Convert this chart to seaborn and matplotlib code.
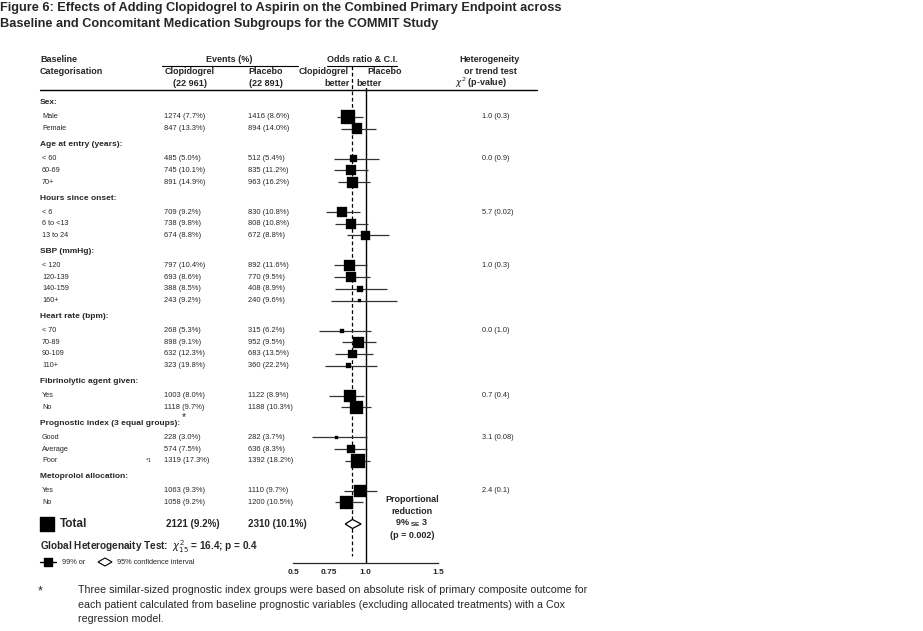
import matplotlib
matplotlib.use("Agg")
import matplotlib.pyplot as plt
import seaborn as sns
import pandas as pd

# ---- data ----
group_names = ["Sex:", "Age at entry (years):", "Hours since onset:", "SBP (mmHg):",
               "Heart rate (bpm):", "Fibrinolytic agent given:",
               "Prognostic index (3 equal groups):", "Metoprolol allocation:"]
group_sizes = [2, 3, 3, 4, 4, 2, 3, 2]
het_tests = ["1.0 (0.3)", "0.0 (0.9)", "5.7 (0.02)", "1.0 (0.3)", "0.0 (1.0)",
             "0.7 (0.4)", "3.1 (0.08)", "2.4 (0.1)"]

sub_labels = ["Male", "Female", "< 60", "60-69", "70+", "< 6", "6 to <13", "13 to 24",
              "< 120", "120-139", "140-159", "160+", "< 70", "70-89", "90-109", "110+",
              "Yes", "No", "Good", "Average", "Poor", "Yes", "No"]
clopi_events = [1274, 847, 485, 745, 891, 709, 738, 674, 797, 693, 388, 243,
                268, 898, 632, 323, 1003, 1118, 228, 574, 1319, 1063, 1058]
clopi_pct = [7.7, 13.3, 5.0, 10.1, 14.9, 9.2, 9.8, 8.8, 10.4, 8.6, 8.5, 9.2,
             5.3, 9.1, 12.3, 19.8, 8.0, 9.7, 3.0, 7.5, 17.3, 9.3, 9.2]
placebo_events = [1416, 894, 512, 835, 963, 830, 808, 672, 892, 770, 408, 240,
                  315, 952, 683, 360, 1122, 1188, 282, 636, 1392, 1110, 1200]
placebo_pct = [8.6, 14.0, 5.4, 11.2, 16.2, 10.8, 10.8, 8.8, 11.6, 9.5, 8.9, 9.6,
               6.2, 9.5, 13.5, 22.2, 8.9, 10.3, 3.7, 8.3, 18.2, 9.7, 10.5]
odds_ratio = [0.88, 0.94, 0.92, 0.90, 0.91, 0.84, 0.90, 1.00, 0.89, 0.90, 0.96, 0.96,
              0.84, 0.95, 0.91, 0.88, 0.89, 0.94, 0.80, 0.90, 0.95, 0.96, 0.87]
ci_low = [0.80, 0.83, 0.78, 0.78, 0.81, 0.73, 0.79, 0.87, 0.78, 0.78, 0.79, 0.76,
          0.68, 0.84, 0.79, 0.72, 0.75, 0.83, 0.63, 0.78, 0.86, 0.85, 0.79]
ci_high = [0.98, 1.07, 1.09, 1.02, 1.03, 0.96, 1.02, 1.16, 1.01, 1.03, 1.15, 1.22,
           1.04, 1.07, 1.05, 1.08, 0.99, 1.04, 1.01, 1.01, 1.03, 1.08, 0.98]

total_clopi = (2121, 9.2)
total_placebo = (2310, 10.1)
total_or, total_lo, total_hi = 0.91, 0.86, 0.97

W, H = 923, 631
sns.set_style("white")
plt.rcParams['font.family'] = ['Liberation Sans', 'DejaVu Sans']
plt.rcParams['mathtext.fontset'] = 'dejavusans'

fig = plt.figure(figsize=(W / 100, H / 100), dpi=100)
bg = fig.add_axes([0, 0, 1, 1])
bg.set_xlim(0, W)
bg.set_ylim(H, 0)
bg.axis('off')


def px_axes(x0, y0, x1, y1):
    return fig.add_axes([x0 / W, 1 - y1 / H, (x1 - x0) / W, (y1 - y0) / H])


# ---- vertical layout (pixel rows) ----
head_y, row_y = [], []
y = 103
for g, n in enumerate(group_sizes):
    head_y.append(y)
    y += 14
    for i in range(n):
        row_y.append(y)
        if i < n - 1:
            y += 11.7
    y += 16
total_y = row_y[-1] + 21.5

df = pd.DataFrame({
    "label": sub_labels, "y": row_y, "or": odds_ratio, "lo": ci_low, "hi": ci_high,
    "weight": [a + b for a, b in zip(clopi_events, placebo_events)],
})

# ---- titles ----
bg.text(0, 8, "Figure 6: Effects of Adding Clopidogrel to Aspirin on the Combined Primary Endpoint across",
        fontsize=9.2, fontweight='bold', va='center', ha='left')
bg.text(0, 24, "Baseline and Concomitant Medication Subgroups for the COMMIT Study",
        fontsize=9.2, fontweight='bold', va='center', ha='left')

hdr = dict(fontsize=6.5, fontweight='bold', va='center')
bg.text(40, 59, "Baseline", ha='left', **hdr)
bg.text(40, 71, "Categorisation", ha='left', **hdr)
bg.text(229, 59, "Events (%)", ha='center', **hdr)
bg.plot([162, 298], [65.5, 65.5], color='black', lw=0.8)
bg.text(190, 71, "Clopidogrel", ha='center', **hdr)
bg.text(190, 83, "(22 961)", ha='center', **hdr)
bg.text(266, 71, "Placebo", ha='center', **hdr)
bg.text(266, 83, "(22 891)", ha='center', **hdr)
bg.text(362, 59, "Odds ratio & C.I.", ha='center', **hdr)
bg.plot([327, 397], [65.5, 65.5], color='black', lw=0.8)
bg.text(349, 71, "Clopidogrel", ha='right', **hdr)
bg.text(367, 71, "Placebo", ha='left', **hdr)
bg.text(350, 83, "better", ha='right', **hdr)
bg.text(356, 83, "better", ha='left', **hdr)
bg.text(490, 59, "Heterogeneity", ha='center', **hdr)
bg.text(490, 71, "or trend test", ha='center', **hdr)
bg.text(481, 83, r"$\chi^2$ (p-value)", ha='center', **hdr)
bg.plot([40, 537], [90, 90], color='black', lw=1.0)

# ---- table text ----
for g, name in enumerate(group_names):
    bg.text(40, head_y[g], name, fontsize=6.0, fontweight='bold', va='center', ha='left')
bg.text(182, head_y[6] - 6, "*", fontsize=7.5, va='center', ha='left')

first = 0
for g, n in enumerate(group_sizes):
    bg.text(482, row_y[first], het_tests[g], fontsize=5.3, va='center', ha='left')
    first += n

for i, lab in enumerate(sub_labels):
    yy = row_y[i]
    bg.text(42, yy, lab, fontsize=5.2, va='center', ha='left')
    bg.text(164, yy, f"{clopi_events[i]} ({clopi_pct[i]:.1f}%)", fontsize=5.4, va='center', ha='left')
    bg.text(248, yy, f"{placebo_events[i]} ({placebo_pct[i]:.1f}%)", fontsize=5.4, va='center', ha='left')
bg.text(145, row_y[20], "$_{*1}$", fontsize=5, va='center', ha='left')

# total row
bg.scatter([47], [total_y], marker='s', s=115, color='black')
bg.text(60, total_y, "Total", fontsize=8.5, fontweight='bold', va='center', ha='left')
bg.text(166, total_y, f"{total_clopi[0]} ({total_clopi[1]:.1f}%)", fontsize=7, fontweight='bold', va='center')
bg.text(248, total_y, f"{total_placebo[0]} ({total_placebo[1]:.1f}%)", fontsize=7, fontweight='bold', va='center')

red = dict(fontsize=6.5, fontweight='bold', va='center', ha='center')
bg.text(412, 500, "Proportional", **red)
bg.text(412, 512, "reduction", **red)
bg.text(412, 523, r"9% $\mathregular{_{SE}}$ 3", **red)
bg.text(412, 535, "(p = 0.002)", **red)

bg.text(40, 547, r"Global Heterogenaity Test:  $\chi^2_{15}$ = 16.4; p = 0.4",
        fontsize=7.2, fontweight='bold', va='center', ha='left')

# legend
bg.plot([40, 56], [562, 562], color='black', lw=1.0)
bg.scatter([48], [562], marker='s', s=30, color='black', zorder=3)
bg.text(62, 562, "99% or", fontsize=5.3, va='center', ha='left')
bg.fill([98, 105, 112, 105], [562, 558, 562, 566], facecolor='white', edgecolor='black', lw=0.8)
bg.text(117, 562, "95% confidence interval", fontsize=5.3, va='center', ha='left')

# footnote
bg.text(38, 591, "*", fontsize=9, va='center', ha='left')
foot = ["Three similar-sized prognostic index groups were based on absolute risk of primary composite outcome for",
        "each patient calculated from baseline prognostic variables (excluding allocated treatments) with a Cox",
        "regression model."]
for k, line in enumerate(foot):
    bg.text(78, 590 + 14.5 * k, line, fontsize=7.7, va='center', ha='left')

# ---- forest plot ----
ax = px_axes(293, 88, 438, 563)
ax.set_xlim(0.5, 1.5)
ax.set_ylim(563, 88)
ax.patch.set_alpha(0)
for s in ['top', 'right', 'left']:
    ax.spines[s].set_visible(False)
ax.spines['bottom'].set_linewidth(0.9)
ax.set_yticks([])

ax.hlines(df["y"], df["lo"], df["hi"], color='#333333', lw=0.9, zorder=2)
sns.scatterplot(data=df, x="or", y="y", size="weight", sizes=(4, 100), marker='s',
                color='black', edgecolor='black', legend=False, ax=ax, zorder=3)
ax.fill([total_lo, total_or, total_hi, total_or],
        [total_y, total_y - 4.5, total_y, total_y + 4.5],
        facecolor='white', edgecolor='black', lw=0.9, zorder=3)

ax.axvline(1.0, color='black', lw=1.0, zorder=1)
ax.vlines(total_or, 66, 556, colors='black', linestyles=(0, (3, 2)), lw=0.9,
          clip_on=False, zorder=1)

ax.set_xticks([0.5, 1.0, 1.5])
ax.set_xticklabels(["0.5", "1.0", "1.5"])
ax.set_xticks([0.75, 1.25], minor=True)
ax.set_xticklabels(["0.75", ""], minor=True)
ax.tick_params(axis='x', which='major', direction='in', length=8, width=0.9, pad=4)
ax.tick_params(axis='x', which='minor', direction='in', length=4, width=0.9, pad=4)
for t in ax.get_xticklabels(which='both'):
    t.set_fontsize(6)
    t.set_fontweight('bold')
ax.set_xlabel("")
ax.set_ylabel("")

fig.savefig("out.png", dpi=100)
